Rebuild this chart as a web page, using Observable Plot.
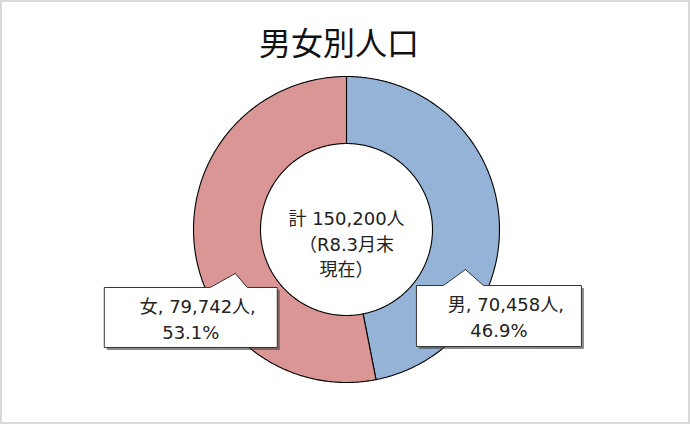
<!DOCTYPE html>
<html><head><meta charset="utf-8">
<script src="https://cdn.jsdelivr.net/npm/d3@7"></script>
<script src="https://cdn.jsdelivr.net/npm/@observablehq/plot@0.6"></script>
<style>
body{margin:0;background:#fff;}
#wrap{box-sizing:border-box;width:690px;height:424px;border:2px solid #d9d9d9;background:#fff;overflow:hidden;font-family:"Noto Sans CJK JP",sans-serif;}
#title{box-sizing:border-box;height:64px;padding-top:22px;padding-right:12px;text-align:center;font-size:32px;line-height:34px;color:#111;}
#chart svg{display:block;}
</style></head><body>
<div id="wrap"><div id="title">男女別人口</div><div id="chart"></div></div>
<script>
// ---- data ----
const sexes = ["男", "女"];
const counts = [70458, 79742];
const sliceColors = ["#95b3d7", "#d99694"];
const totalLines = ["計 150,200人", "（R8.3月末", "現在）"];

// ---- layout (pixels) ----
const W = 686, H = 356, CX = 344, CY = 163, K = 153, HOLE = 0.562;
const FONT = "'DejaVu Sans', 'Noto Sans CJK JP', sans-serif";
// callout geometry relative to the slice centroid / pointer tip
const calloutLayout = [
  {tip: [0, 51.6], left: -49, right: 116, top: 16, bottom: 77, nl: -22, nr: 18, l1: 20, l2: 45.5, l1dx: 7},
  {tip: [7.7, 32.4], left: -131, right: 42, top: 14, bottom: 74, nl: -25, nr: 12, l1: 20, l2: 45.5, l1dx: 7}
];

const data = sexes.map((sex, i) => ({sex, count: counts[i]}));
const total = d3.sum(counts);
const pie = d3.pie().sort(null).value(d => d.count)(data);

// ring polygons
const ringPts = pie.flatMap(p => {
  const n = Math.max(2, Math.ceil((p.endAngle - p.startAngle) / 0.01));
  const angles = d3.range(n + 1).map(i => p.startAngle + (p.endAngle - p.startAngle) * i / n);
  const pts = [
    ...angles.map(a => ({sex: p.data.sex, x: Math.sin(a), y: Math.cos(a)})),
    ...angles.slice().reverse().map(a => ({sex: p.data.sex, x: HOLE * Math.sin(a), y: HOLE * Math.cos(a)}))
  ];
  pts.push(pts[0]);
  return pts;
});

// callouts
const fmt = d3.format(",");
const pct = d3.format(".1%");
const rMid = (1 + HOLE) / 2;
const callouts = pie.map((p, i) => {
  const a = (p.startAngle + p.endAngle) / 2;
  const L = calloutLayout[i];
  const tx = rMid * Math.sin(a) + L.tip[0] / K;
  const ty = rMid * Math.cos(a) - L.tip[1] / K;
  const P = (dx, dy) => ({sex: p.data.sex, x: tx + dx / K, y: ty - dy / K});
  const poly = [P(0, 0), P(L.nr, L.top), P(L.right, L.top), P(L.right, L.bottom),
                P(L.left, L.bottom), P(L.left, L.top), P(L.nl, L.top), P(0, 0)];
  const cx = tx + (L.left + L.right) / 2 / K;
  return {
    poly,
    line1: {x: cx + L.l1dx / K, y: ty - (L.top + L.l1) / K, text: `${p.data.sex}, ${fmt(p.data.count)}人,`},
    line2: {x: cx, y: ty - (L.top + L.l2) / K, text: pct(p.data.count / total)}
  };
});
const boxPts = callouts.flatMap(c => c.poly);

const chart = Plot.plot({
  width: W, height: H, margin: 0,
  x: {domain: [-CX / K, (W - CX) / K], axis: null},
  y: {domain: [-(H - CY) / K, CY / K], axis: null},
  color: {domain: sexes, range: sliceColors},
  style: {fontFamily: FONT, background: "white"},
  marks: [
    Plot.line(ringPts, {x: "x", y: "y", z: "sex", fill: "sex", stroke: "#000", strokeWidth: 1.1, curve: "linear"}),
    Plot.line(boxPts, {x: "x", y: "y", z: "sex", fill: "#404040", fillOpacity: 0.6, stroke: "none", dx: 2.5, dy: 2.5, curve: "linear"}),
    Plot.line(boxPts, {x: "x", y: "y", z: "sex", fill: "white", stroke: "#333", strokeWidth: 1, curve: "linear"}),
    Plot.text(callouts.map(c => c.line1), {x: "x", y: "y", text: "text", fontSize: 18, fill: "#222"}),
    Plot.text(callouts.map(c => c.line2), {x: "x", y: "y", text: "text", fontSize: 18, fill: "#222"}),
    Plot.text([{x: 0, y: 0, text: totalLines.join("\n")}], {x: "x", y: "y", text: "text", fontSize: 18, lineHeight: 1.42, dy: 13, fill: "#222"})
  ]
});
document.getElementById("chart").appendChild(chart);
</script>
</body></html>
